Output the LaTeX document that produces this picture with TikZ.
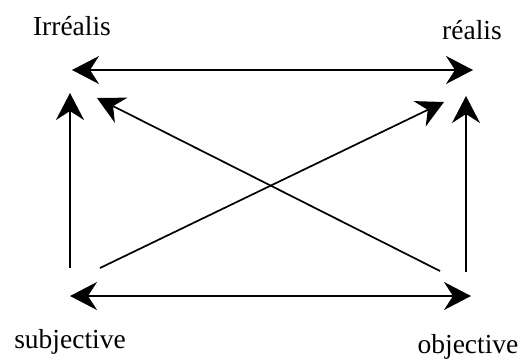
\documentclass[tikz,border=0pt]{standalone}
\usepackage{fontspec}
\setmainfont{Liberation Serif}
\usetikzlibrary{arrows.meta}
\begin{document}
\begin{tikzpicture}[x=1pt,y=-1pt,
  head/.tip={Stealth[length=27pt,width=28pt,inset=9pt]},
  link/.style={line width=1.7pt, -head},
  biway/.style={line width=1.7pt, head-head},
  lab/.style={font=\fontsize{27.5}{32}\selectfont, inner sep=0pt}]
\useasboundingbox (0,0) rectangle (522,360);
% labels
\node[lab] (irr) at (72,26) {Irréalis};
\node[lab] (rea) at (472,30) {réalis};
\node[lab] (sub) at (70,342) {subjective};
\node[lab] (obj) at (468,347) {objective};
% arrow end points
\coordinate (tl) at (72,70);
\coordinate (tr) at (473,70);
\coordinate (bl) at (70,296);
\coordinate (br) at (471,296);
\coordinate (lb) at (70,268);
\coordinate (lt) at (70,93);
\coordinate (rb) at (466,272);
\coordinate (rt) at (466,96);
\coordinate (d1s) at (100,268);
\coordinate (d1e) at (444,102);
\coordinate (d2s) at (440,271);
\coordinate (d2e) at (97,98);
% arrows
\draw[biway] (tl) -- (tr);
\draw[biway] (bl) -- (br);
\draw[link] (lb) -- (lt);
\draw[link] (rb) -- (rt);
\draw[link] (d1s) -- (d1e);
\draw[link] (d2s) -- (d2e);
\end{tikzpicture}
\end{document}
